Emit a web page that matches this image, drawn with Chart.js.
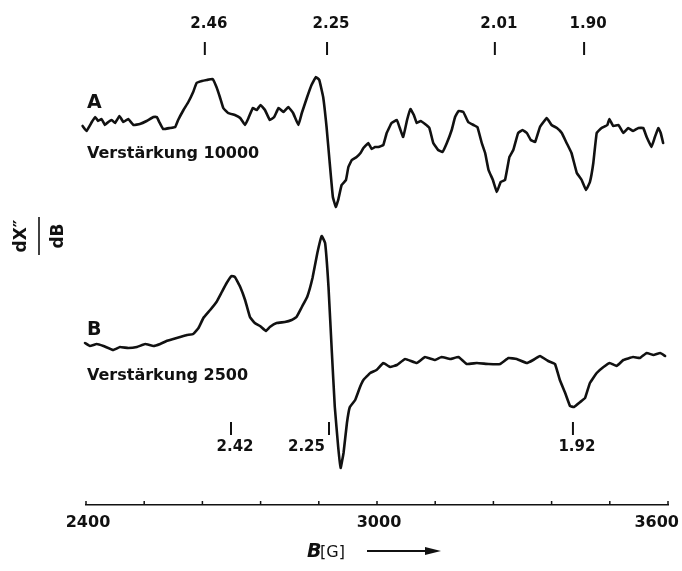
<!DOCTYPE html>
<html>
<head>
<meta charset="utf-8">
<script src="https://cdn.jsdelivr.net/npm/chart.js@4/dist/chart.umd.min.js"></script>
<style>
  html, body { margin: 0; background: #fff; }
  #wrap { width: 682px; height: 571px; }
</style>
</head>
<body>
<div id="wrap"><canvas id="epr" width="682" height="571"></canvas></div>
<script>
// trace A (Verstärkung 10000): field in G, signal in arbitrary units
const fieldA = [2393, 2401, 2412, 2419, 2425, 2432, 2439, 2446, 2453, 2460, 2469, 2477, 2487, 2498,
  2511, 2525, 2539, 2546, 2551, 2559, 2573, 2584, 2590, 2601, 2611, 2621, 2628, 2639, 2649, 2661,
  2669, 2676, 2683, 2693, 2707, 2718, 2728, 2735, 2744, 2752, 2760, 2769, 2779, 2788, 2797, 2807,
  2817, 2827, 2838, 2845, 2856, 2865, 2874, 2881, 2889, 2896, 2902, 2909, 2915, 2920, 2927, 2936,
  2941, 2948, 2958, 2966, 2972, 2982, 2989, 2996, 3003, 3013, 3020, 3030, 3041, 3047, 3054, 3062,
  3069, 3076, 3082, 3090, 3099, 3108, 3116, 3126, 3135, 3144, 3154, 3161, 3168, 3178, 3188, 3199,
  3207, 3216, 3223, 3230, 3239, 3247, 3255, 3264, 3273, 3281, 3291, 3300, 3309, 3317, 3326, 3336,
  3350, 3360, 3371, 3381, 3391, 3401, 3412, 3422, 3431, 3439, 3446, 3453, 3463, 3475, 3479, 3487,
  3498, 3508, 3518, 3528, 3539, 3549, 3556, 3566, 3573, 3580, 3585, 3590]
const signalA = [379, 374, 383, 388, 384, 386, 380, 383, 385, 382, 389, 383, 386, 380,
  381, 384, 388, 388, 383, 376, 377, 378, 385, 395, 403, 413, 422, 424, 425, 426,
  418, 408, 397, 392, 390, 387, 380, 387, 397, 395, 400, 395, 385, 388, 397, 393,
  398, 392, 380, 392, 408, 420, 428, 425, 408, 378, 345, 308, 298, 305, 320, 325,
  338, 345, 348, 352, 357, 362, 356, 358, 358, 360, 372, 382, 385, 377, 368, 385,
  396, 390, 382, 384, 381, 377, 362, 355, 353, 362, 375, 388, 394, 393, 383, 380,
  378, 362, 352, 335, 325, 313, 323, 325, 348, 355, 372, 375, 372, 365, 363, 378,
  387, 380, 377, 372, 362, 352, 332, 325, 315, 323, 342, 372, 377, 380, 386, 379,
  380, 372, 377, 374, 377, 377, 368, 358, 368, 377, 372, 362]

// trace B (Verstärkung 2500)
const fieldB = [2398, 2408, 2422, 2436, 2456, 2470, 2487, 2505, 2522, 2539, 2553, 2566, 2580, 2594,
  2608, 2621, 2632, 2642, 2656, 2669, 2680, 2690, 2700, 2707, 2718, 2728, 2738, 2748, 2759, 2771,
  2779, 2793, 2810, 2824, 2834, 2845, 2856, 2867, 2877, 2886, 2893, 2900, 2907, 2913, 2920, 2925,
  2931, 2938, 2944, 2955, 2965, 2972, 2986, 2999, 3013, 3027, 3041, 3058, 3082, 3099, 3120, 3133,
  3151, 3168, 3185, 3206, 3230, 3254, 3271, 3288, 3309, 3322, 3336, 3353, 3367, 3377, 3388, 3398,
  3406, 3419, 3429, 3439, 3453, 3467, 3480, 3494, 3508, 3528, 3542, 3556, 3570, 3584, 3594]
const signalB = [162, 159, 161, 159, 155, 158, 157, 158, 161, 159, 161, 164, 166, 168,
  170, 171, 177, 187, 195, 203, 213, 222, 229, 228, 218, 205, 188, 182, 179, 174,
  178, 182, 183, 185, 188, 198, 208, 227, 252, 269, 262, 218, 152, 98, 58, 37,
  52, 82, 98, 105, 118, 125, 132, 135, 142, 138, 140, 146, 142, 148, 145, 148,
  146, 148, 141, 142, 141, 141, 147, 146, 142, 145, 149, 144, 141, 125, 112, 99,
  98, 103, 107, 122, 132, 138, 142, 139, 145, 148, 147, 152, 150, 152, 149]

// g-value markers (field position in G)
const gTop = ['2.46', '2.25', '2.01', '1.90']
const gTopField = [2645, 2897, 3243, 3427]
const gBottom = ['2.42', '2.25', '1.92']
const gBottomField = [2699, 2901, 3404]

const tickLabels = ['2400', '3000', '3600']

const FONT = '"DejaVu Sans", "Liberation Sans", sans-serif'

function toPoints(xs, ys) {
  return xs.map((x, i) => ({ x, y: ys[i] }))
}

function vline(ctx, x, y1, y2) {
  ctx.beginPath()
  ctx.moveTo(x, y1)
  ctx.lineTo(x, y2)
  ctx.stroke()
}

const annotations = {
  id: 'annotations',
  afterDraw(chart) {
    const { ctx, chartArea } = chart
    const xs = chart.scales.x
    const bottom = chartArea.bottom
    ctx.save()
    ctx.fillStyle = '#111'
    ctx.strokeStyle = '#111'

    // axis ticks point up into the plot
    ctx.lineWidth = 1.5
    xs.ticks.forEach(t => {
      vline(ctx, xs.getPixelForValue(t.value), bottom, bottom - 4)
    })

    ctx.font = `bold 16px ${FONT}`
    ctx.textAlign = 'left'
    ctx.textBaseline = 'alphabetic'
    tickLabels.forEach(lbl => {
      const w = ctx.measureText(lbl).width
      const px = xs.getPixelForValue(Number(lbl))
      const left = Math.min(px - w / 2 + 2, chart.width - 3 - w)
      ctx.fillText(lbl, left, bottom + 22)
    })

    // x title: B [G] ---->
    const cx = (chartArea.left + chartArea.right) / 2
    const ty = bottom + 52
    ctx.font = `italic bold 19px ${FONT}`
    ctx.fillText('B', cx - 70, ty)
    ctx.font = `16px ${FONT}`
    ctx.fillText('[G]', cx - 57, ty)
    ctx.lineWidth = 2
    ctx.beginPath()
    ctx.moveTo(cx - 10, ty - 6)
    ctx.lineTo(cx + 50, ty - 6)
    ctx.stroke()
    ctx.beginPath()
    ctx.moveTo(cx + 64, ty - 6)
    ctx.lineTo(cx + 48, ty - 10)
    ctx.lineTo(cx + 48, ty - 2)
    ctx.closePath()
    ctx.fill()

    // y title as a fraction, rotated
    ctx.save()
    ctx.translate(39, 236)
    ctx.rotate(-Math.PI / 2)
    ctx.font = `bold 17px ${FONT}`
    ctx.textAlign = 'center'
    ctx.fillText('dX\u2033', 0, -13)
    ctx.fillText('dB', 0, 24)
    ctx.lineWidth = 1.6
    ctx.beginPath()
    ctx.moveTo(-19, 0)
    ctx.lineTo(19, 0)
    ctx.stroke()
    ctx.restore()

    // trace labels
    ctx.textAlign = 'left'
    ctx.font = `bold 19px ${FONT}`
    ctx.fillText('A', chartArea.left + 1, 108)
    ctx.fillText('B', chartArea.left + 1, 335)
    ctx.font = `bold 16px ${FONT}`
    ctx.fillText('Verst\u00e4rkung 10000', chartArea.left + 1, 158)
    ctx.fillText('Verst\u00e4rkung 2500', chartArea.left + 1, 380)

    // g markers above A
    ctx.lineWidth = 2
    ctx.font = `bold 15px ${FONT}`
    gTop.forEach((g, i) => {
      const px = xs.getPixelForValue(gTopField[i])
      vline(ctx, px, 42, 55)
      ctx.textAlign = 'center'
      ctx.fillText(g, px + 4, 28)
    })

    // g markers below B
    gBottom.forEach((g, i) => {
      const px = xs.getPixelForValue(gBottomField[i])
      vline(ctx, px, 422, 435)
      if (i === 1) {
        ctx.textAlign = 'right'
        ctx.fillText(g, px - 4, 451)
      } else {
        ctx.textAlign = 'center'
        ctx.fillText(g, px + 4, 451)
      }
    })
    ctx.restore()
  }
}

const traceStyle = {
  borderColor: '#111',
  borderWidth: 2.6,
  pointRadius: 0,
  tension: 0.08,
  fill: false,
  clip: false,
  borderJoinStyle: 'round',
  borderCapStyle: 'round',
}

new Chart(document.getElementById('epr'), {
  type: 'line',
  data: {
    datasets: [
      { label: 'A', data: toPoints(fieldA, signalA), ...traceStyle },
      { label: 'B', data: toPoints(fieldB, signalB), ...traceStyle },
    ],
  },
  options: {
    responsive: false,
    animation: false,
    parsing: false,
    layout: { padding: { left: 86, right: 14, top: 0, bottom: 66 } },
    plugins: { legend: { display: false }, tooltip: { enabled: false } },
    scales: {
      x: {
        type: 'linear',
        min: 2400,
        max: 3600,
        ticks: { display: false, stepSize: 120 },
        grid: { display: false, drawTicks: false },
        border: { display: true, color: '#111', width: 1.5 },
      },
      y: {
        display: false,
        min: 0,
        max: 505,
      },
    },
  },
  plugins: [annotations],
})
</script>
</body>
</html>
